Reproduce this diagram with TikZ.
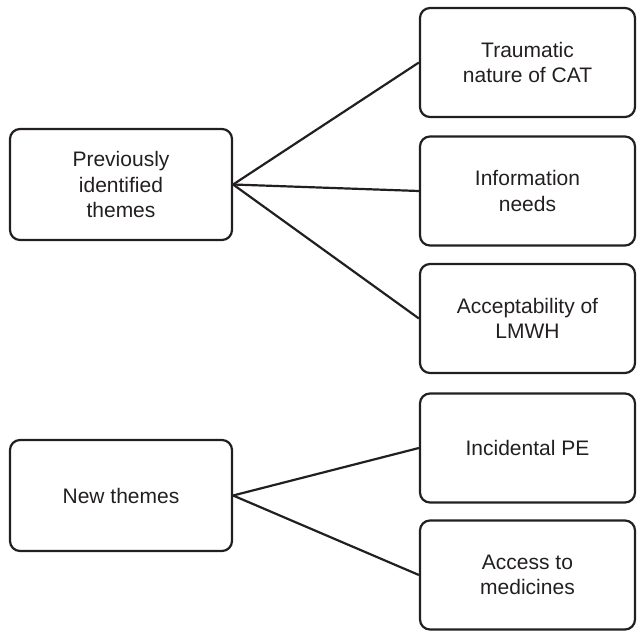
\documentclass[tikz,border=0pt]{standalone}
\usepackage{fontspec}
\setmainfont{Liberation Sans}
\usepackage{xcolor}
\usepackage{tikz}
\definecolor{inkgray}{RGB}{35, 31, 32}

\begin{document}
\begin{tikzpicture}[x=1pt, y=-1pt,
    themebox/.style={draw=inkgray, line width=2.2pt, rounded corners=10pt, align=center,
        text=inkgray, font=\fontsize{21}{25.5}\selectfont, inner sep=2pt},
    groupbox/.style={themebox, minimum width=222pt, minimum height=111pt},
    subbox/.style={themebox, minimum width=215pt, minimum height=109pt},
    link/.style={draw=inkgray, line width=2.2pt}]
                \useasboundingbox (0,0) rectangle (638,631);

                % Theme groups
                \node[groupbox] (prev) at (121, 184.5) {Previously\\identified\\themes};
                \node[groupbox] (new) at (121, 495.5) {New themes};

                % Previously identified themes
                \node[subbox] (trauma) at (527.5, 62.5) {Traumatic\\nature of CAT};
                \node[subbox] (info) at (527.5, 191) {Information\\needs};
                \node[subbox] (lmwh) at (527.5, 318.5) {Acceptability of\\LMWH};

                % New themes
                \node[subbox] (pe) at (527.5, 448) {Incidental PE};
                \node[subbox] (access) at (527.5, 575) {Access to\\medicines};

                % Links
                \foreach \t in {trauma, info, lmwh}
                    \draw[link] (prev.east) -- (\t.west);
                \foreach \t in {pe, access}
                    \draw[link] (new.east) -- (\t.west);
            \end{tikzpicture}
\end{document}
